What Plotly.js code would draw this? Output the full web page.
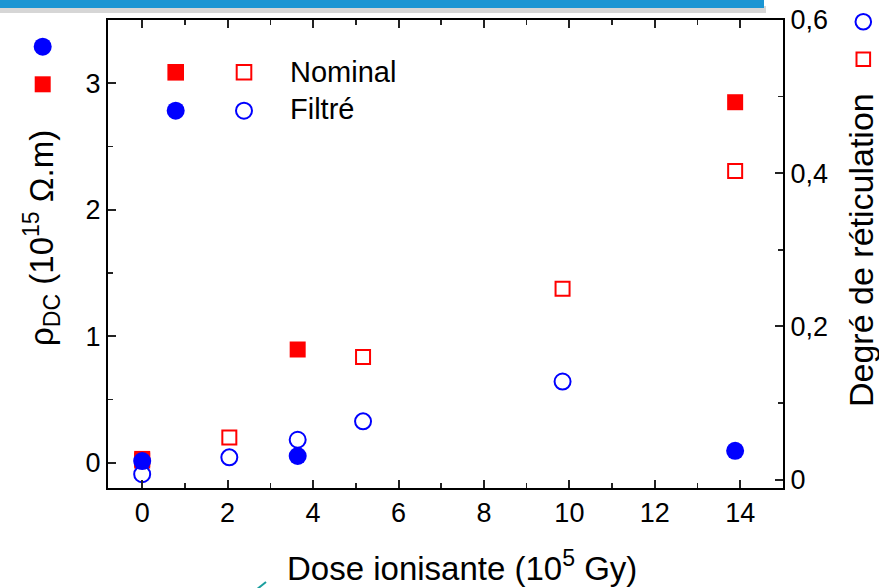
<!DOCTYPE html>
<html>
<head>
<meta charset="utf-8">
<script src="https://cdn.plot.ly/plotly-3.0.1.min.js"></script>
<style>html,body{margin:0;padding:0;background:#fff;}#chart{width:879px;height:588px;}</style>
</head>
<body>
<div id="chart"></div>
<script>
// ---- data ----
const doseRho = [0, 3.64, 13.88];           // 10^5 Gy
const rhoNominal = [0.03, 0.895, 2.85];     // 10^15 Ohm.m
const rhoFiltre = [0.013, 0.053, 0.094];    // 10^15 Ohm.m (dose 0, 3.64, 13.88)
const doseDegNominal = [0, 2.04, 5.17, 9.84, 13.88];
const degNominal = [0.025, 0.055, 0.160, 0.249, 0.403];
const doseDegFiltre = [0, 2.04, 3.64, 5.17, 9.84];
const degFiltre = [0.007, 0.029, 0.052, 0.076, 0.128];
const legendLabels = ['Nominal', 'Filtré'];
const xTitle = 'Dose ionisante (10<sup>5</sup> Gy)';
const yLeftTitle = 'ρ<sub>DC</sub> (10<sup>15</sup> Ω.m)';
const yRightTitle = 'Degré de réticulation';

const RED = '#ff0000', BLUE = '#0000ff';
const FONT = 'Liberation Sans, Arial, sans-serif';

const traces = [
  {x: doseDegNominal, y: degNominal, yaxis: 'y', mode: 'markers', name: 'Nominal (réticulation)',
   marker: {symbol: 'square-open', size: 14, color: RED, line: {width: 2, color: RED}}},
  {x: doseDegFiltre, y: degFiltre, yaxis: 'y', mode: 'markers', name: 'Filtré (réticulation)',
   marker: {symbol: 'circle-open', size: 16, color: BLUE, line: {width: 2, color: BLUE}}},
  {x: doseRho, y: rhoNominal, yaxis: 'y2', mode: 'markers', name: 'Nominal (ρ)',
   marker: {symbol: 'square', size: 16, color: RED}},
  {x: doseRho, y: rhoFiltre, yaxis: 'y2', mode: 'markers', name: 'Filtré (ρ)',
   marker: {symbol: 'circle', size: 18, color: BLUE}}
];

// plot-area geometry in pixels (for paper conversions of decorations)
const L = 108, R = 783, T = 20, B = 488;
const px = v => (v - L) / (R - L);
const py = v => (B - v) / (B - T);

function sym(type, cx, cy, half, color, filled) {
  return {type: type, xref: 'paper', yref: 'paper', xsizemode: 'pixel', ysizemode: 'pixel',
    xanchor: px(cx), yanchor: py(cy), x0: -half, x1: half, y0: -half, y1: half,
    fillcolor: filled ? color : 'rgba(255,255,255,0)',
    line: {color: color, width: filled ? 0 : 2}, layer: 'above'};
}

const shapes = [
  // slide banner at the very top
  {type: 'rect', xref: 'paper', yref: 'paper', x0: px(0), x1: px(766), y0: py(13), y1: py(6),
   fillcolor: 'rgba(90,90,90,0.25)', line: {width: 0}},
  {type: 'rect', xref: 'paper', yref: 'paper', x0: px(0), x1: px(764), y0: py(8), y1: py(-2),
   fillcolor: '#1b95d3', line: {width: 0}},
  // small teal arrow fragment at bottom
  {type: 'line', xref: 'paper', yref: 'paper', x0: px(256), y0: py(590), x1: px(266), y1: py(582),
   line: {color: '#1a9e9e', width: 2}},
  // legend symbols
  sym('rect', 175.7, 72.3, 8.3, RED, true),
  sym('rect', 244, 72.3, 7.3, RED, false),
  sym('circle', 175.7, 110.7, 9, BLUE, true),
  sym('circle', 244, 110.7, 8, BLUE, false),
  // axis-title keys, left (filled) and right (open)
  sym('circle', 42.7, 46.7, 9, BLUE, true),
  sym('rect', 42.7, 84.3, 8, RED, true),
  sym('circle', 863.3, 21.7, 7.8, BLUE, false),
  sym('rect', 863.3, 59.3, 6.8, RED, false)
];

const annotations = [
  {text: legendLabels[0], xref: 'paper', yref: 'paper', x: px(288), y: py(71.5), xanchor: 'left', yanchor: 'middle',
   showarrow: false, font: {family: FONT, size: 29, color: '#000'}},
  {text: legendLabels[1], xref: 'paper', yref: 'paper', x: px(288), y: py(108.5), xanchor: 'left', yanchor: 'middle',
   showarrow: false, font: {family: FONT, size: 29, color: '#000'}},
  {text: xTitle, xref: 'paper', yref: 'paper', x: px(462), y: py(566), xanchor: 'center', yanchor: 'middle',
   showarrow: false, font: {family: FONT, size: 33, color: '#000'}},
  {text: yLeftTitle, xref: 'paper', yref: 'paper', x: px(41), y: py(238), xanchor: 'center', yanchor: 'middle',
   textangle: -90, showarrow: false, font: {family: FONT, size: 33, color: '#000'}},
  {text: yRightTitle, xref: 'paper', yref: 'paper', x: px(861), y: py(250), xanchor: 'center', yanchor: 'middle',
   textangle: -90, showarrow: false, font: {family: FONT, size: 34, color: '#000'}}
];

const axisCommon = {
  showgrid: false, zeroline: false, showline: true, linecolor: '#000', linewidth: 2,
  ticks: 'inside', ticklen: 8, tickwidth: 2, tickcolor: '#222',
  tickfont: {family: FONT, size: 27, color: '#000'}
};

const layout = {
  width: 879, height: 588,
  margin: {l: L, r: 879 - R, t: T, b: 588 - B, pad: 0},
  paper_bgcolor: '#fff', plot_bgcolor: 'rgba(0,0,0,0)',
  separators: ', ',
  showlegend: false,
  font: {family: FONT, color: '#000'},
  xaxis: Object.assign({}, axisCommon, {
    range: [-0.8, 15], tick0: 0, dtick: 2, mirror: 'ticks',
    minor: {dtick: 1, tick0: 0, ticks: 'inside', ticklen: 5, tickwidth: 1.5, tickcolor: '#222'}
  }),
  yaxis: Object.assign({}, axisCommon, {
    side: 'right', range: [-0.011, 0.6], tick0: 0, dtick: 0.2,
    minor: {dtick: 0.1, tick0: 0, ticks: 'inside', ticklen: 5, tickwidth: 1.5, tickcolor: '#222'}
  }),
  yaxis2: Object.assign({}, axisCommon, {
    side: 'left', overlaying: 'y', range: [-0.2, 3.5], tick0: 0, dtick: 1,
    minor: {dtick: 0.5, tick0: 0, ticks: 'inside', ticklen: 5, tickwidth: 1.5, tickcolor: '#222'}
  }),
  shapes: shapes,
  annotations: annotations
};

Plotly.newPlot('chart', traces, layout, {staticPlot: true, displayModeBar: false});
</script>
</body>
</html>
